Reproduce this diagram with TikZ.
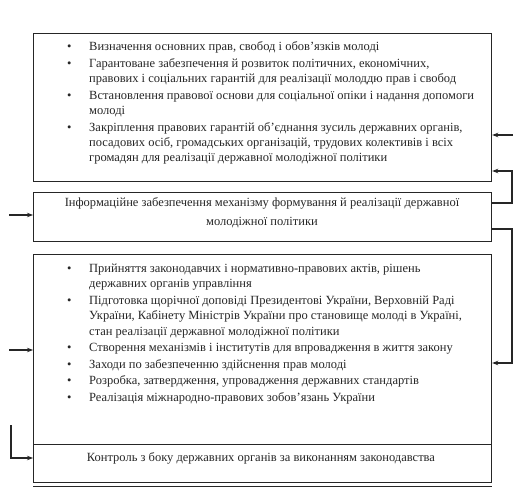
\documentclass[tikz,border=0pt]{standalone}
\usepackage{fontspec}
\setmainfont{Liberation Serif}
\usetikzlibrary{arrows.meta}
\begin{document}
\begin{tikzpicture}[x=1pt,y=-1pt,
  box/.style={draw=black!85, line width=1.2pt, rectangle, minimum width=458pt, inner sep=0pt, anchor=north west},
  arr/.style={draw=black!85, line width=1.1pt, -{Stealth[length=6pt,width=4.5pt]}},
  ln/.style={draw=black!85, line width=1.2pt},
  txt/.style={font=\fontsize{12.5}{14.8}\selectfont, text=black!85, inner sep=0pt}]
\useasboundingbox (0,0) rectangle (523,503);
% boxes
\node[box, minimum height=148pt] (b1) at (33,33) {};
\node[box, minimum height=49pt] (b2) at (33,192) {};
\node[box, minimum height=190pt] (b3) at (33,254) {};
\node[box, minimum height=38pt] (b4) at (33,444) {};
\draw[ln] ([yshift=-3pt]b4.south west) -- ([yshift=-3pt]b4.south east);
% texts
\node[txt, anchor=base west] (t1) at (67,51) {\begin{tabular}[t]{@{}p{22pt}@{}l@{}}
\textbullet & Визначення основних прав, свобод і обов'язків молоді\\[2pt]
\textbullet & Гарантоване забезпечення й розвиток політичних, економічних,\\
 & правових і соціальних гарантій для реалізації молоддю прав і свобод\\[2pt]
\textbullet & Встановлення правової основи для соціальної опіки і надання допомоги\\
 & молоді\\[2.5pt]
\textbullet & Закріплення правових гарантій об'єднання зусиль державних органів,\\
 & посадових осіб, громадських організацій, трудових колективів і всіх\\
 & громадян для реалізації державної молодіжної політики
\end{tabular}};
\node[txt, anchor=base] (t2) at (262,206.5) {\begin{tabular}[t]{@{}c@{}}
Інформаційне забезпечення механізму формування й реалізації державної\\[4.5pt]
молодіжної політики
\end{tabular}};
\node[txt, anchor=base west, font=\fontsize{12.5}{15.4}\selectfont] (t3) at (67,272.5) {\begin{tabular}[t]{@{}p{22pt}@{}l@{}}
\textbullet & Прийняття законодавчих і нормативно-правових актів, рішень\\
 & державних органів управління\\[1.1pt]
\textbullet & Підготовка щорічної доповіді Президентові України, Верховній Раді\\
 & України, Кабінету Міністрів України про становище молоді в Україні,\\
 & стан реалізації державної молодіжної політики\\[1.1pt]
\textbullet & Створення механізмів і інститутів для впровадження в життя закону\\[1.1pt]
\textbullet & Заходи по забезпеченню здійснення прав молоді\\[1.1pt]
\textbullet & Розробка, затвердження, упровадження державних стандартів\\[1.1pt]
\textbullet & Реалізація міжнародно-правових зобов'язань України
\end{tabular}};
\node[txt, anchor=base] (t4) at (261,461.5) {Контроль з боку державних органів за виконанням законодавства};
% connectors
\coordinate (in1) at (513,135);
\draw[arr] (in1) -- (in1 -| b1.east);
\coordinate (r1) at (512,203);
\coordinate (r2) at (512,171);
\draw[arr] (r1 -| b2.east) -- (r1) -- (r2) -- (r2 -| b1.east);
\coordinate (r3) at (512,229);
\coordinate (r4) at (512,363);
\draw[arr] (r3 -| b2.east) -- (r3) -- (r4) -- (r4 -| b3.east);
\coordinate (l1) at (9,215);
\draw[arr] (l1) -- (l1 -| b2.west);
\coordinate (l2) at (9,350);
\draw[arr] (l2) -- (l2 -| b3.west);
\coordinate (l3) at (11,425);
\coordinate (l4) at (11,458);
\draw[arr] (l3) -- (l4) -- (l4 -| b4.west);
\end{tikzpicture}
\end{document}
